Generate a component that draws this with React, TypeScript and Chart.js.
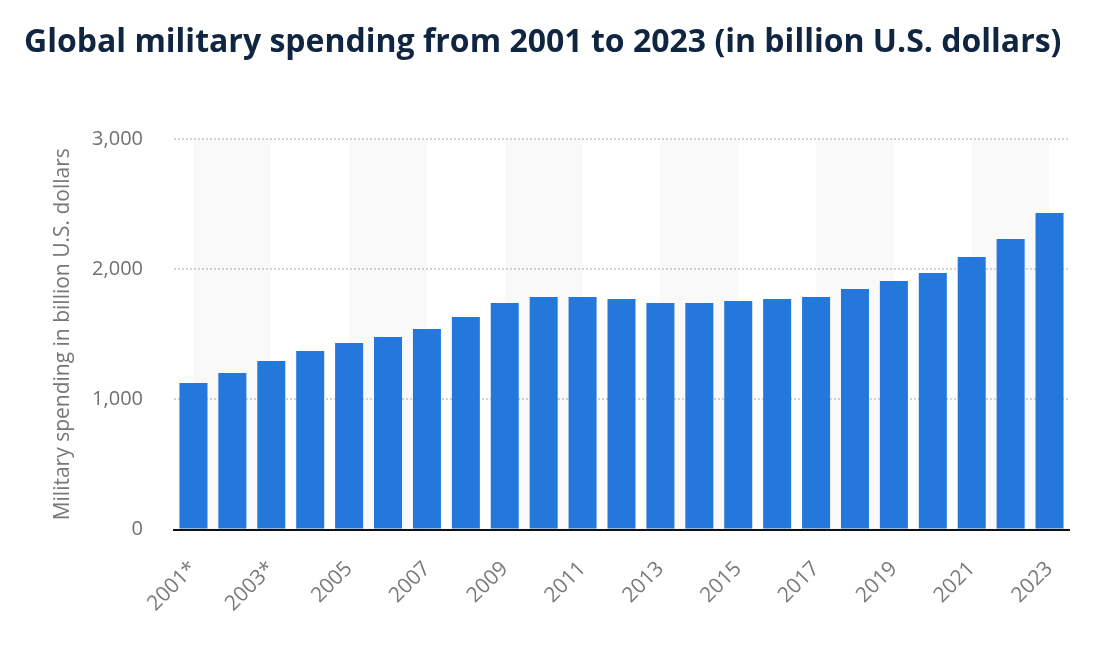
import React, { useEffect, useRef } from "react";
import { Chart, registerables } from "chart.js";

Chart.register(...registerables);

const years: string[] = [
  "2001*", "2002*", "2003*", "2004", "2005", "2006", "2007", "2008", "2009", "2010",
  "2011", "2012", "2013", "2014", "2015", "2016", "2017", "2018", "2019", "2020",
  "2021", "2022", "2023",
];

const spending: number[] = [
  1125, 1202, 1294, 1371, 1432, 1479, 1540, 1632, 1740, 1786,
  1786, 1770, 1740, 1740, 1755, 1770, 1786, 1847, 1909, 1970,
  2093, 2231, 2431,
];

const yTicks: number[] = [0, 1000, 2000, 3000];

const TITLE = "Global military spending from 2001 to 2023 (in billion U.S. dollars)";
const Y_TITLE = "Military spending in billion U.S. dollars";

const FONT = "'Open Sans', 'Noto Sans', sans-serif";

const bandPlugin = {
  id: "bands",
  beforeDraw(chart: any) {
    const { ctx, chartArea, scales } = chart;
    const x = scales.x;
    ctx.save();
    ctx.fillStyle = "#f9f9f9";
    for (let i = 0; i + 2 < years.length; i += 4) {
      const x1 = x.getPixelForValue(i);
      const x2 = x.getPixelForValue(i + 2);
      ctx.fillRect(x1, chartArea.top, x2 - x1, chartArea.bottom - chartArea.top);
    }
    ctx.restore();
  },
};

export default function App() {
  const canvasRef = useRef<HTMLCanvasElement | null>(null);

  useEffect(() => {
    document.body.style.margin = "0";
    const canvas = canvasRef.current;
    if (!canvas) return;
    const chart = new Chart(canvas, {
      type: "bar",
      data: {
        labels: years,
        datasets: [
          {
            data: spending,
            backgroundColor: "#2477db",
            barPercentage: 0.72,
            categoryPercentage: 1,
          },
        ],
      },
      plugins: [bandPlugin],
      options: {
        responsive: false,
        maintainAspectRatio: false,
        animation: false,
        layout: { padding: { top: 139, left: 46, right: 27, bottom: 0 } },
        plugins: {
          legend: { display: false },
          tooltip: { enabled: false },
          title: { display: false },
        },
        scales: {
          x: {
            grid: { display: false, drawTicks: false },
            border: { display: true, color: "#111111", width: 2 },
            ticks: {
              autoSkip: false,
              maxRotation: 45,
              minRotation: 45,
              padding: 27,
              color: "#7a7a7a",
              font: { family: FONT, size: 21 },
              callback: (_v: any, i: number) => (i % 2 === 0 ? years[i] : ""),
            },
            afterFit: (scale: any) => {
              scale.height = 648 - 529.5;
              scale.paddingLeft = 0;
              scale.paddingRight = 0;
            },
          },
          y: {
            min: 0,
            max: 3000,
            afterBuildTicks: (scale: any) => {
              scale.ticks = yTicks.map((v) => ({ value: v }));
            },
            grid: {
              drawTicks: false,
              lineWidth: 2,
              color: (c: any) => (c.tick && c.tick.value === 0 ? "rgba(0,0,0,0)" : "#d2d2d2"),
            },
            border: { display: false, dash: [2, 2] },
            ticks: {
              padding: 31,
              color: "#707070",
              font: { family: FONT, size: 20 },
              callback: (v: any) => Number(v).toLocaleString("en-US"),
            },
            title: {
              display: true,
              text: Y_TITLE,
              color: "#777777",
              font: { family: FONT, size: 21 },
              padding: { top: 4, bottom: 4 },
            },
            afterFit: (scale: any) => {
              scale.width = 174 - 46;
              scale.paddingTop = 0;
              scale.paddingBottom = 0;
            },
          },
        },
      },
    });
    return () => chart.destroy();
  }, []);

  return (
    <div style={{ position: "relative", width: 1096, height: 648, background: "#fff" }}>
      <div
        style={{
          position: "absolute",
          left: 24,
          top: 20,
          fontFamily: FONT,
          fontWeight: 700,
          fontSize: 32,
          color: "#0f2540",
          whiteSpace: "nowrap",
          letterSpacing: 0,
          lineHeight: "40px",
        }}
      >
        {TITLE}
      </div>
      <canvas ref={canvasRef} width={1096} height={648} style={{ display: "block" }} />
    </div>
  );
}
